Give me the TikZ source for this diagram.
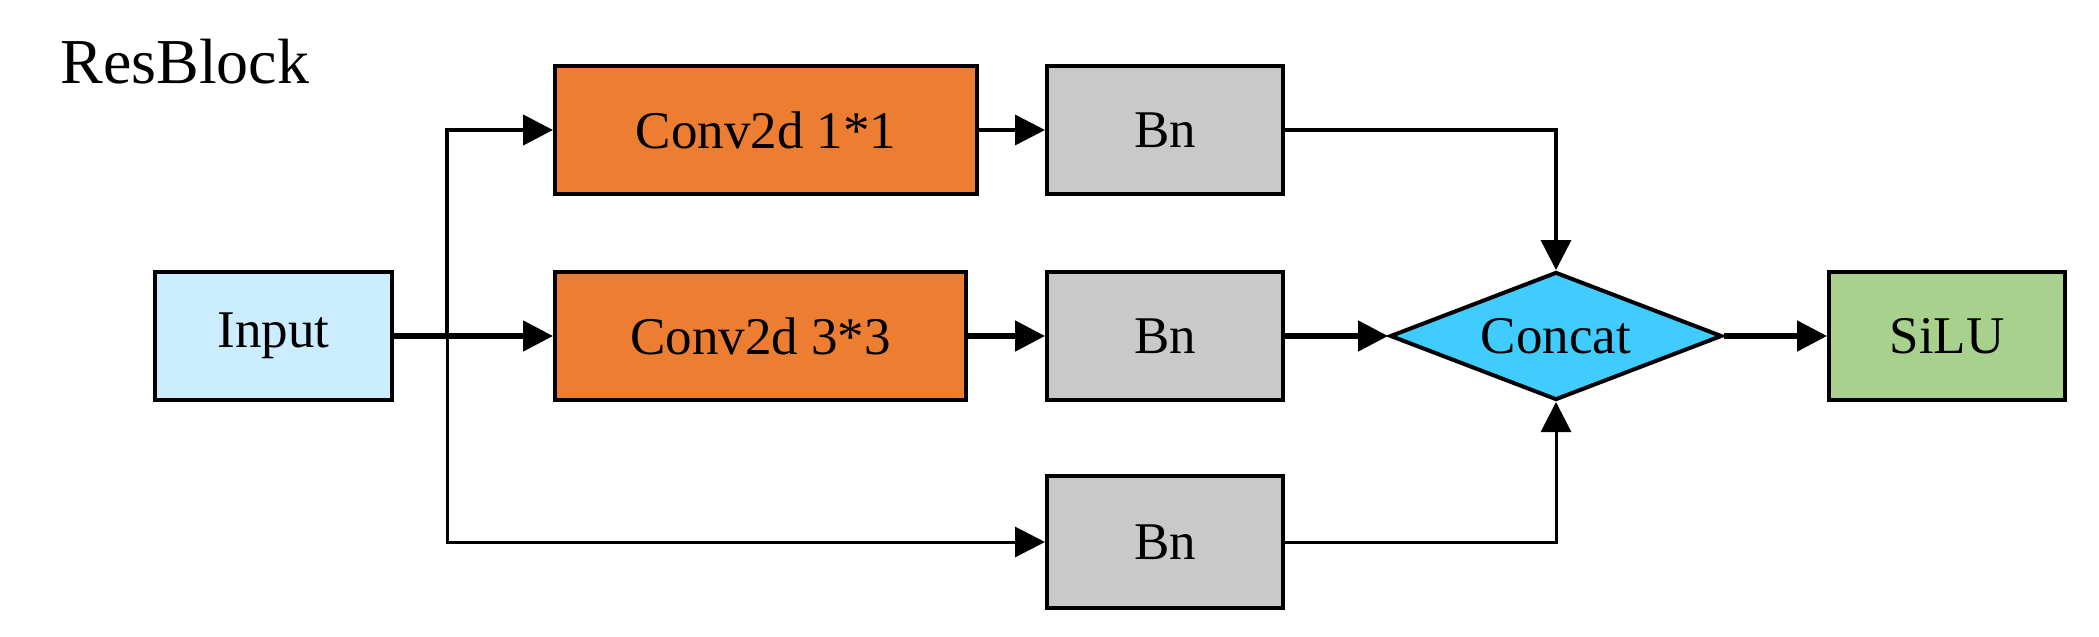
\documentclass[tikz,border=0pt]{standalone}
\usepackage{fontspec}
\setmainfont{Liberation Serif}
\usetikzlibrary{arrows.meta,shapes.geometric}
\definecolor{convorange}{RGB}{237,125,49}
\definecolor{bngray}{RGB}{201,201,201}
\definecolor{inblue}{RGB}{204,236,255}
\definecolor{catblue}{RGB}{64,204,255}
\definecolor{silugreen}{RGB}{169,209,142}
\tikzset{
  blk/.style={draw=black, line width=2pt, minimum height=64pt, inner sep=0pt,
    font=\fontsize{26.5pt}{29pt}\selectfont},
  conn/.style={draw=black, line width=1.8pt, -{Triangle[length=15pt,width=15pt]}},
  thickconn/.style={conn, line width=2.6pt},
  thinconn/.style={conn, line width=1.5pt},
}
\begin{document}
\begin{tikzpicture}[x=0.5pt,y=-0.5pt]
\useasboundingbox (0,0) rectangle (2099,637);
\node[anchor=base west, inner sep=0pt, font=\fontsize{32pt}{35pt}\selectfont] (title) at (60,83) {ResBlock};
\node[blk, fill=inblue, minimum width=118.5pt] (input) at (273.5,336) {Input};
\node[blk, fill=convorange, minimum width=211pt] (conv1) at (766,130) {Conv2d 1*1};
\node[blk, fill=convorange, minimum width=205.5pt] (conv3) at (760.5,336) {Conv2d 3*3};
\node[blk, fill=bngray, minimum width=118pt] (bn1) at (1165,130) {Bn};
\node[blk, fill=bngray, minimum width=118pt] (bn2) at (1165,336) {Bn};
\node[blk, fill=bngray, minimum width=118pt, minimum height=66pt] (bn3) at (1165,542) {Bn};
\node[diamond, draw=black, line width=2pt, fill=catblue, inner sep=0pt, shape aspect=2.6,
  minimum width=166pt, minimum height=64pt, font=\fontsize{26.5pt}{29pt}\selectfont] (concat) at (1556,336) {Concat};
\node[blk, fill=silugreen, minimum width=118pt] (silu) at (1947,336) {SiLU};
\coordinate (split) at (447,336);
\draw[thickconn] (input.east) -- (conv3.west);
\draw[conn, line width=2.2pt] (split) |- (conv1.west);
\draw[thinconn] (split) |- (bn3.west);
\draw[conn] (conv1.east) -- (bn1.west);
\draw[thickconn] (conv3.east) -- (bn2.west);
\draw[conn] (bn1.east) -| (concat.north);
\draw[thickconn] (bn2.east) -- (concat.west);
\draw[thinconn] (bn3.east) -| (concat.south);
\draw[thickconn] (concat.east) -- (silu.west);
\end{tikzpicture}
\end{document}
